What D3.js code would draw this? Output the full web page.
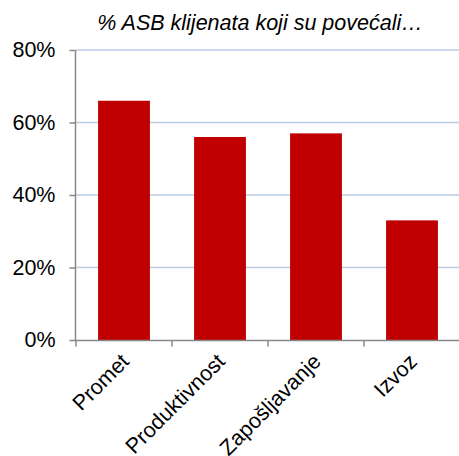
<!DOCTYPE html>
<html><head><meta charset="utf-8">
<script src="https://cdn.jsdelivr.net/npm/d3@7"></script>
<style>body{margin:0;background:#fff}</style>
</head><body>
<svg id="c" width="459" height="456"></svg>
<script>
const categories = ["Promet","Produktivnost","Zapošljavanje","Izvoz"];
const values = [0.66,0.56,0.57,0.33];
const yTicks = [0,0.2,0.4,0.6,0.8];
const title = "% ASB klijenata koji su povećali…";

const svg = d3.select("#c");
const font = "'Liberation Sans', Arial, sans-serif";
const x = d3.scaleBand().domain(categories).range([76,460]).paddingInner(0.46).paddingOuter(0.23);
const y = d3.scaleLinear().domain([0,0.8]).range([340,50]);

svg.append("text").attr("x",260).attr("y",30).attr("text-anchor","middle")
  .attr("font-family",font).attr("font-size",21.5).attr("font-style","italic").attr("fill","#000").text(title);

svg.append("g").selectAll("line").data(yTicks.filter(d=>d>0)).join("line")
  .attr("x1",76).attr("x2",459).attr("y1",d=>y(d)).attr("y2",d=>y(d))
  .attr("stroke","#b9cde5").attr("stroke-width",1.5);

svg.append("g").selectAll("rect").data(values).join("rect")
  .attr("x",(d,i)=>x(categories[i])).attr("width",x.bandwidth())
  .attr("y",d=>y(d)).attr("height",d=>y(0)-y(d)).attr("fill","#c00000");

const yAxis = svg.append("g").attr("transform","translate(75.5,0)")
  .call(d3.axisLeft(y).tickValues(yTicks).tickFormat(d3.format(".0%")).tickSize(6).tickPadding(14));
yAxis.select(".domain").attr("stroke","#888").attr("stroke-width",1.5).attr("d","M0,50V340");
yAxis.selectAll(".tick line").attr("stroke","#888").attr("stroke-width",1.5);
yAxis.selectAll("text").attr("font-family",font).attr("font-size",21.5).attr("fill","#000");

const xb = d3.scaleOrdinal().domain(categories).range(categories.map(c=>x(c)+x.bandwidth()/2));
const xAxis = svg.append("g").attr("transform","translate(0,340.5)");
xAxis.append("line").attr("x1",75).attr("x2",459).attr("stroke","#888").attr("stroke-width",1.5);
xAxis.selectAll("line.t").data([76,172,268,364]).join("line").attr("class","t")
  .attr("x1",d=>d).attr("x2",d=>d).attr("y1",0).attr("y2",6).attr("stroke","#888").attr("stroke-width",1.5);
xAxis.selectAll("text").data(categories).join("text")
  .attr("transform",d=>`translate(${xb(d)+1},${17}) rotate(-45)`)
  .attr("text-anchor","end").attr("dy","0.35em")
  .attr("font-family",font).attr("font-size",21.5).attr("fill","#000").text(d=>d);
</script>
</body></html>
